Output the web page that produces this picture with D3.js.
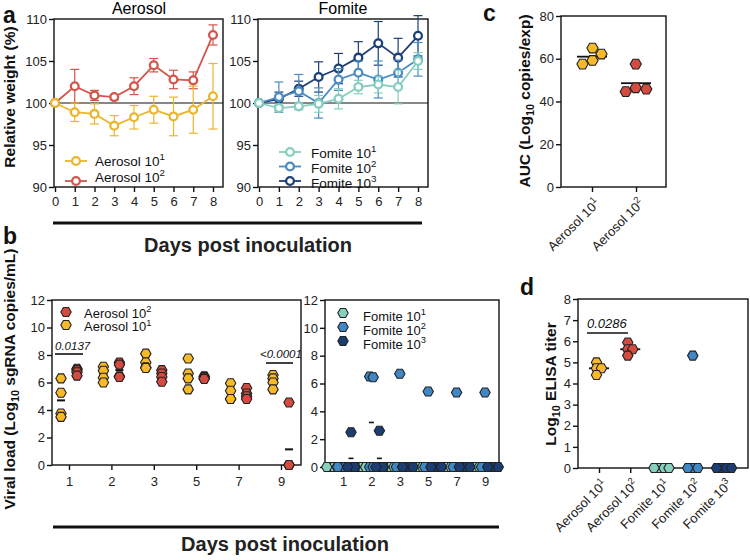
<!DOCTYPE html>
<html><head><meta charset="utf-8">
<script src="https://cdn.jsdelivr.net/npm/d3@7"></script>
<style>body{margin:0;background:#fff}svg{display:block}</style>
</head><body>
<svg id="chart" width="750" height="560"></svg>
<script>
// ================= DATA =================
// Panel a: relative weight (%), mean and error per day
const weightDays = [0, 1, 2, 3, 4, 5, 6, 7, 8];
const aero1Weight = [100, 98.9, 98.7, 97.3, 98.3, 99.2, 98.4, 99.2, 100.8];
const aero1Err    = [0, 1.1, 1.2, 1.2, 1.4, 1.6, 2.3, 2.8, 3.9];
const aero2Weight = [100, 102.0, 100.9, 100.7, 102.0, 104.5, 102.8, 102.7, 108.1];
const aero2Err    = [0, 2.0, 0.6, 0.3, 1.0, 0.8, 1.1, 1.0, 1.2];
const fom1Weight  = [100, 99.4, 99.6, 99.9, 100.5, 101.9, 102.2, 101.9, 105.0];
const fom1Err     = [0, 0.3, 0.4, 1.0, 1.2, 0.8, 1.0, 2.0, 1.0];
const fom2Weight  = [100, 100.7, 101.4, 100.0, 102.8, 103.6, 102.8, 103.6, 105.2];
const fom2Err     = [0, 1.8, 2.0, 1.8, 1.3, 1.4, 2.2, 1.5, 2.0];
const fom3Weight  = [100, 100.5, 101.7, 103.1, 104.1, 105.4, 107.1, 105.4, 108.0];
const fom3Err     = [0, 0.8, 0.9, 1.8, 1.8, 1.9, 2.6, 2.3, 2.4];
const weightTicksY = [90, 95, 100, 105, 110];

// Panel b: viral load per animal per day
const vlDays = ["1", "2", "3", "5", "7", "9"];
const vlAero1 = [[6.3, 5.25, 3.75, 3.5], [7.15, 6.85, 6.35, 6.0], [8.1, 7.45, 7.1, 7.05],
                 [7.75, 6.65, 6.3, 5.5], [5.95, 5.4, 4.8, 4.8], [6.55, 6.3, 6.0, 5.5]];
const vlAero2 = [[7.0, 6.9, 6.75, 6.5], [7.45, 7.3, 6.45, 6.4], [6.9, 6.65, 6.4, 6.05],
                 [6.45, 6.4, 6.3, 6.25], [5.6, 5.2, 5.0, 4.8], [4.55, 0, 0, 0]];
const vlFom1 = [[0, 0, 0, 0], [0, 0, 0, 0], [0, 0, 0, 0], [0, 0, 0, 0], [0, 0, 0, 0], [0, 0, 0, 0]];
const vlFom2 = [[0, 0, 0, 0], [6.5, 6.45, 0, 0], [6.7, 0, 0, 0], [5.42, 0, 0, 0], [5.35, 0, 0, 0], [5.35, 0, 0, 0]];
const vlFom3 = [[2.5, 0, 0, 0], [2.6, 0, 0, 0], [0, 0, 0, 0], [0, 0, 0, 0], [0, 0, 0, 0], [0, 0, 0, 0]];
const fomiteMeanDays   = ["1", "2", "2"];
const fomiteMeanGroups = ["fom3", "fom2", "fom3"];
const fomiteMeanValues = [0.62, 3.2, 0.62];
const vlTicksY = [0, 2, 4, 6, 8, 10, 12];

// Panel c: AUC
const aucCats = ["Aerosol 10^1", "Aerosol 10^2"];
const aucAero1 = [57.5, 62.2, 65.0, 59.2];
const aucAero2 = [57.5, 44.6, 46.4, 45.8];
const aucTicksY = [0, 20, 40, 60, 80];

// Panel d: ELISA titer
const elisaCats = ["Aerosol 10^1", "Aerosol 10^2", "Fomite 10^1", "Fomite 10^2", "Fomite 10^3"];
const elisaAero1 = [5.0, 4.72, 4.72, 4.4];
const elisaAero2 = [5.94, 5.62, 5.62, 5.32];
const elisaFom1 = [0, 0, 0, 0];
const elisaFom2 = [5.32, 0, 0, 0];
const elisaFom3 = [0, 0, 0, 0];
const elisaTicksY = [0, 1, 2, 3, 4, 5, 6, 7, 8];

// ================= STYLE =================
const FONT = '"Liberation Sans", Arial, Helvetica, sans-serif';
const INK = "#111";
const C = {
  aero1: {line: "#EBB52E", fill: "#F7B928"},
  aero2: {line: "#D3554B", fill: "#D44B40"},
  fom1:  {line: "#86CEC0", fill: "#88CFC0"},
  fom2:  {line: "#4A8BC4", fill: "#3F88C5"},
  fom3:  {line: "#1C3F76", fill: "#1B3D72"}
};

const svg = d3.select("#chart").attr("font-family", FONT);

function hexPath(r) {
  const pts = d3.range(6).map(i => [r * Math.cos(Math.PI / 3 * i), r * Math.sin(Math.PI / 3 * i)]);
  return "M" + pts.map(p => p.map(v => v.toFixed(2)).join(",")).join("L") + "Z";
}
function frame(b) {
  svg.append("rect").attr("x", b.left).attr("y", b.top).attr("width", b.right - b.left)
    .attr("height", b.bottom - b.top).attr("fill", "none").attr("stroke", INK).attr("stroke-width", 1.4);
}
function styleAxis(g, fs) {
  g.attr("font-family", FONT).attr("font-size", fs || 13);
  g.select(".domain").remove();
  g.selectAll(".tick line").attr("stroke", INK).attr("stroke-width", 1.4);
  g.selectAll(".tick text").attr("fill", "#222");
}
function yAxis(scale, b, ticks) {
  const g = svg.append("g").attr("transform", `translate(${b.left},0)`)
    .call(d3.axisLeft(scale).tickValues(ticks).tickSize(5).tickPadding(2).tickSizeOuter(0));
  styleAxis(g);
  return g;
}
function xAxis(scale, b, ticks, pad) {
  const g = svg.append("g").attr("transform", `translate(0,${b.bottom})`)
    .call(d3.axisBottom(scale).tickValues(ticks).tickSize(5).tickPadding(pad || 4).tickSizeOuter(0));
  styleAxis(g);
  return g;
}
function supLabel(x, y, text, fs, anchor) {
  const [base, sup] = text.split("^");
  const t = svg.append("text").attr("x", x).attr("y", y).attr("font-size", fs)
    .attr("fill", "#111").attr("text-anchor", anchor || "start");
  t.append("tspan").text(base);
  if (sup) t.append("tspan").attr("dy", -fs * 0.42).attr("font-size", fs * 0.72).text(sup);
  return t;
}
function rotatedCatLabels(g, fs) {
  g.selectAll(".tick text").each(function (d) {
    const t = d3.select(this);
    const [base, sup] = d.split("^");
    t.text(null).attr("x", 0).attr("y", 0).attr("dy", "0.35em")
      .attr("text-anchor", "end").attr("transform", "translate(5,14) rotate(-45)");
    t.append("tspan").text(base);
    t.append("tspan").attr("dy", -fs * 0.42).attr("font-size", fs * 0.72).text(sup);
  });
}
function yTitle(x, y, parts, fs) {
  const t = svg.append("text").attr("transform", `translate(${x},${y}) rotate(-90)`)
    .attr("text-anchor", "middle").attr("font-size", fs).attr("font-weight", "bold").attr("fill", "#111");
  parts.forEach(p => {
    const s = t.append("tspan").text(p.t);
    if (p.sub) s.attr("font-size", fs * 0.7).attr("dy", fs * 0.25);
    if (p.back) s.attr("dy", -fs * 0.25);
  });
}
function panelLetter(x, y, l) {
  svg.append("text").attr("x", x).attr("y", y).attr("font-size", 23).attr("font-weight", "bold").attr("fill", "#111").text(l);
}
// simple beeswarm: offsets in px, centred
function swarm(vals, y, dc) {
  const order = d3.range(vals.length).sort((a, b) => vals[b] - vals[a]);
  const placed = [], off = new Array(vals.length).fill(0);
  order.forEach(i => {
    const py = y(vals[i]);
    let o = 0;
    if (dc > 0) {
      for (let k = 0; k < 400; k++) {
        const cand = k === 0 ? 0 : (k % 2 ? 1 : -1) * Math.ceil(k / 2) * 0.5;
        if (placed.every(p => Math.hypot(p[0] - cand, p[1] - py) >= dc - 1e-6)) { o = cand; break; }
      }
    }
    placed.push([o, py]); off[i] = o;
  });
  const mid = (d3.min(off) + d3.max(off)) / 2;
  return off.map(o => o - mid);
}

// ================= PANEL a =================
const boxAL = {left: 54, right: 223, top: 19, bottom: 187};
const boxAR = {left: 258, right: 428, top: 19, bottom: 187};
const xAL = d3.scaleLinear().domain([0, 8]).range([55, 213]);
const xAR = d3.scaleLinear().domain([0, 8]).range([259, 418]);
const yA = d3.scaleLinear().domain([90, 110]).range([boxAL.bottom, boxAL.top]);

[[boxAL, xAL], [boxAR, xAR]].forEach(([b, x]) => {
  svg.append("line").attr("x1", b.left).attr("x2", b.right).attr("y1", yA(100)).attr("y2", yA(100))
    .attr("stroke", INK).attr("stroke-width", 1.1);
  frame(b);
  yAxis(yA, b, weightTicksY);
  xAxis(x, b, weightDays, 5);
});

function weightSeries(x, vals, errs, color) {
  const g = svg.append("g");
  const data = weightDays.map((d, i) => ({d, v: vals[i], e: errs[i]}));
  const eb = g.selectAll("g.eb").data(data.filter(p => p.e > 0)).join("g");
  eb.append("line").attr("x1", p => x(p.d)).attr("x2", p => x(p.d))
    .attr("y1", p => yA(p.v - p.e)).attr("y2", p => yA(p.v + p.e)).attr("stroke", color).attr("stroke-width", 1.2);
  [-1, 1].forEach(s => eb.append("line").attr("x1", p => x(p.d) - 4.5).attr("x2", p => x(p.d) + 4.5)
    .attr("y1", p => yA(p.v + s * p.e)).attr("y2", p => yA(p.v + s * p.e)).attr("stroke", color).attr("stroke-width", 1.2));
  g.append("path").datum(data).attr("d", d3.line().x(p => x(p.d)).y(p => yA(p.v)))
    .attr("fill", "none").attr("stroke", color).attr("stroke-width", 1.8);
  g.selectAll("circle").data(data).join("circle").attr("cx", p => x(p.d)).attr("cy", p => yA(p.v))
    .attr("r", 3.9).attr("fill", "#fff").attr("stroke", color).attr("stroke-width", 2.3);
}
weightSeries(xAL, aero2Weight, aero2Err, C.aero2.line);
weightSeries(xAL, aero1Weight, aero1Err, C.aero1.line);
weightSeries(xAR, fom3Weight, fom3Err, C.fom3.line);
weightSeries(xAR, fom2Weight, fom2Err, C.fom2.line);
weightSeries(xAR, fom1Weight, fom1Err, C.fom1.line);

function lineLegend(x, y, color) {
  svg.append("line").attr("x1", x - 11).attr("x2", x + 11).attr("y1", y).attr("y2", y).attr("stroke", color).attr("stroke-width", 1.8);
  svg.append("circle").attr("cx", x).attr("cy", y).attr("r", 3.9).attr("fill", "#fff").attr("stroke", color).attr("stroke-width", 2.3);
}
lineLegend(76, 161, C.aero1.line); supLabel(95, 166, "Aerosol 10^1", 13.5);
lineLegend(76, 181, C.aero2.line); supLabel(95, 182, "Aerosol 10^2", 13.5);
lineLegend(290, 152, C.fom1.line); supLabel(311, 158, "Fomite 10^1", 13.5);
lineLegend(290, 166.5, C.fom2.line); supLabel(311, 172.5, "Fomite 10^2", 13.5);
lineLegend(290, 181, C.fom3.line); supLabel(311, 187.5, "Fomite 10^3", 13.5);

svg.append("text").attr("x", 139).attr("y", 14).attr("text-anchor", "middle").attr("font-size", 16).text("Aerosol");
svg.append("text").attr("x", 343).attr("y", 14).attr("text-anchor", "middle").attr("font-size", 16).text("Fomite");
yTitle(15, 97, [{t: "Relative weight (%)"}], 15.5);
svg.append("line").attr("x1", 53).attr("x2", 422).attr("y1", 223).attr("y2", 223).attr("stroke", INK).attr("stroke-width", 3);
svg.append("text").attr("x", 248).attr("y", 252).attr("text-anchor", "middle").attr("font-size", 20)
  .attr("font-weight", "bold").attr("fill", "#222").text("Days post inoculation");
panelLetter(3, 23, "a");

// ================= PANEL b =================
const boxBL = {left: 52, right: 301, top: 300, bottom: 465};
const boxBR = {left: 325, right: 499, top: 300, bottom: 467};
const xBL = d3.scalePoint().domain(vlDays).range([69, 281]);
const xBR = d3.scalePoint().domain(vlDays).range([343, 485]);
const yBL = d3.scaleLinear().domain([0, 12]).range([boxBL.bottom, boxBL.top]);
const yBR = d3.scaleLinear().domain([0, 12]).range([boxBR.bottom, boxBR.top]);
frame(boxBL); frame(boxBR);
yAxis(yBL, boxBL, vlTicksY); yAxis(yBR, boxBR, vlTicksY);
xAxis(xBL, boxBL, vlDays, 7); xAxis(xBR, boxBR, vlDays, 5);

const hex5 = hexPath(5.2);
function hexPoints(pts, color) {
  svg.append("g").selectAll("path").data(pts).join("path")
    .attr("d", hex5).attr("transform", p => `translate(${p.x},${p.y})`)
    .attr("fill", color).attr("stroke", "#222").attr("stroke-width", 1.1);
}
function dash(x, y, hw, sw) {
  svg.append("line").attr("x1", x - hw).attr("x2", x + hw).attr("y1", y).attr("y2", y).attr("stroke", INK).attr("stroke-width", sw);
}
// left: aerosol
const bLeftGroups = [{vals: vlAero1, off: -8, col: C.aero1.fill}, {vals: vlAero2, off: 8, col: C.aero2.fill}];
bLeftGroups.forEach(gr => vlDays.forEach((d, i) => dash(xBL(d) + gr.off, yBL(d3.mean(gr.vals[i])), 4, 2)));
bLeftGroups.forEach(gr => {
  const pts = [];
  vlDays.forEach((d, i) => gr.vals[i].forEach(v => pts.push({x: xBL(d) + gr.off, y: yBL(v)})));
  hexPoints(pts, gr.col);
});
// right: fomite
const bRightGroups = {fom1: {vals: vlFom1, off: -11, col: C.fom1.fill},
                      fom2: {vals: vlFom2, off: 0, col: C.fom2.fill},
                      fom3: {vals: vlFom3, off: 8, col: C.fom3.fill}};
fomiteMeanValues.forEach((v, i) => dash(xBR(fomiteMeanDays[i]) + bRightGroups[fomiteMeanGroups[i]].off, yBR(v), 2.5, 1.6));
Object.values(bRightGroups).forEach(gr => {
  const pts = [];
  vlDays.forEach((d, i) => {
    const offs = swarm(gr.vals[i], yBR, 3.5);
    gr.vals[i].forEach((v, j) => pts.push({x: xBR(d) + gr.off + offs[j], y: yBR(v)}));
  });
  hexPoints(pts, gr.col);
});

function hexLegend(x, y, color) {
  svg.append("path").attr("d", hex5).attr("transform", `translate(${x},${y})`).attr("fill", color).attr("stroke", "#222").attr("stroke-width", 1.1);
}
hexLegend(66, 312, C.aero2.fill); supLabel(84, 317.5, "Aerosol 10^2", 13);
hexLegend(66, 325, C.aero1.fill); supLabel(84, 331, "Aerosol 10^1", 13);
hexLegend(343, 313, C.fom1.fill); supLabel(363, 320.5, "Fomite 10^1", 13);
hexLegend(343, 327, C.fom2.fill); supLabel(363, 334.5, "Fomite 10^2", 13);
hexLegend(343, 341, C.fom3.fill); supLabel(363, 348.5, "Fomite 10^3", 13);

// significance
svg.append("line").attr("x1", 55).attr("x2", 83).attr("y1", 354).attr("y2", 354).attr("stroke", INK).attr("stroke-width", 1.6);
svg.append("text").attr("x", 55).attr("y", 350).attr("font-size", 11.5).attr("font-style", "italic").attr("fill", "#111").text("0.0137");
svg.append("line").attr("x1", 266).attr("x2", 293).attr("y1", 363).attr("y2", 363).attr("stroke", INK).attr("stroke-width", 1.6);
svg.append("text").attr("x", 260).attr("y", 358).attr("font-size", 11.5).attr("font-style", "italic").attr("fill", "#111").text("<0.0001");

yTitle(15, 379, [{t: "Viral load (Log"}, {t: "10", sub: true}, {t: " sgRNA copies/mL)", back: true}], 15.5);
svg.append("line").attr("x1", 53).attr("x2", 499).attr("y1", 527).attr("y2", 527).attr("stroke", INK).attr("stroke-width", 3);
svg.append("text").attr("x", 285).attr("y", 551).attr("text-anchor", "middle").attr("font-size", 20)
  .attr("font-weight", "bold").attr("fill", "#222").text("Days post inoculation");
panelLetter(3, 244, "b");

// ================= PANEL c =================
const boxC = {left: 561, right: 666, top: 16, bottom: 187};
const xC = d3.scalePoint().domain(aucCats).range([592, 636]);
const yC = d3.scaleLinear().domain([0, 80]).range([boxC.bottom, boxC.top]);
frame(boxC);
yAxis(yC, boxC, aucTicksY);
rotatedCatLabels(xAxis(xC, boxC, aucCats), 13);
const hexC = hexPath(5.6);
[[aucAero1, C.aero1.fill], [aucAero2, C.aero2.fill]].forEach(([vals, col], k) => {
  const cx = xC(aucCats[k]);
  dash(cx, yC(d3.mean(vals)), 15, 1.8);
  const offs = swarm(vals, yC, 10.5);
  svg.append("g").selectAll("path").data(vals).join("path").attr("d", hexC)
    .attr("transform", (v, j) => `translate(${cx + offs[j]},${yC(v)})`)
    .attr("fill", col).attr("stroke", "#222").attr("stroke-width", 1.1);
});
yTitle(530, 101, [{t: "AUC (Log"}, {t: "10", sub: true}, {t: " copies/exp)", back: true}], 15.5);
panelLetter(483, 21, "c");

// ================= PANEL d =================
const boxD = {left: 578, right: 748, top: 299, bottom: 468};
const xD = d3.scalePoint().domain(elisaCats).range([599, 724]);
const yD = d3.scaleLinear().domain([0, 8]).range([boxD.bottom, boxD.top]);
frame(boxD);
yAxis(yD, boxD, elisaTicksY);
rotatedCatLabels(xAxis(xD, boxD, elisaCats), 13);
const elisaSets = [[elisaAero1, C.aero1.fill], [elisaAero2, C.aero2.fill], [elisaFom1, C.fom1.fill],
                   [elisaFom2, C.fom2.fill], [elisaFom3, C.fom3.fill]];
elisaSets.forEach(([vals, col], k) => {
  const cx = xD(elisaCats[k]);
  dash(cx, yD(d3.median(vals)), 10, 1.8);
  const offs = swarm(vals, yD, 5);
  svg.append("g").selectAll("path").data(vals).join("path").attr("d", hex5)
    .attr("transform", (v, j) => `translate(${cx + offs[j]},${yD(v)})`)
    .attr("fill", col).attr("stroke", "#222").attr("stroke-width", 1.1);
});
svg.append("line").attr("x1", 587).attr("x2", 628).attr("y1", 333).attr("y2", 333).attr("stroke", INK).attr("stroke-width", 1.6);
svg.append("text").attr("x", 587).attr("y", 328).attr("font-size", 13).attr("font-style", "italic").attr("fill", "#111").text("0.0286");
yTitle(556, 384, [{t: "Log"}, {t: "10", sub: true}, {t: " ELISA titer", back: true}], 15.5);
panelLetter(520, 295, "d");
</script>
</body></html>
